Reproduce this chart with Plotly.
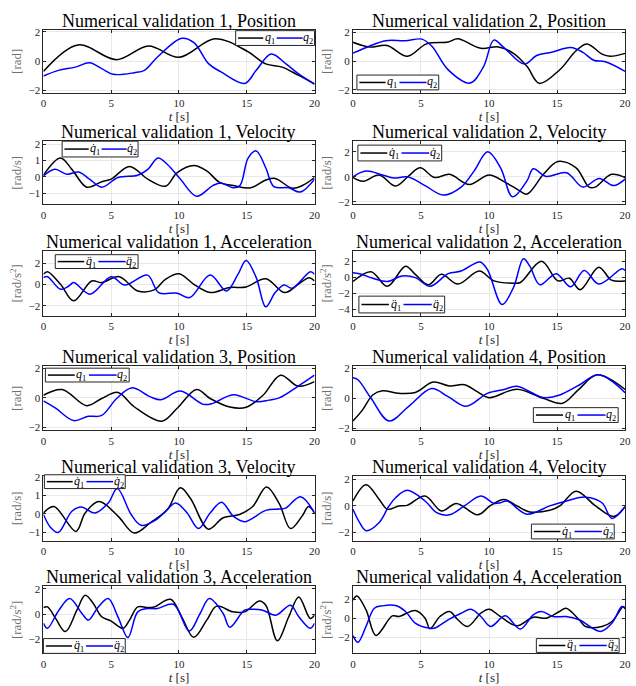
import plotly.graph_objects as go

# ---------------- data ----------------
# NV1 position
nv1_pos_t1 = [0, 2.55, 5.4, 7.75, 10.0, 12.65, 15.0, 16.4, 17.6, 18.8, 20]
nv1_pos_q1 = [-0.69, 1.11, 0.11, 1.04, 0.27, 1.53, 0.7, -0.18, -0.4, -0.95, -1.55]
nv1_pos_t2 = [0, 1.1, 2.35, 3.4, 4.3, 5.15, 6.7, 7.45, 8.4, 10.2, 11.1, 12.2, 13.1, 14.85, 15.7, 16.8, 17.9, 18.8, 20]
nv1_pos_q2 = [-1.0, -0.62, -0.4, -0.11, -0.5, -0.89, -0.78, -0.62, 0.27, 1.56, 1.27, -0.18, -0.73, -1.51, -0.62, 0.49, -0.18, -0.84, -1.55]

# NV2 position
nv2_pos_t1 = [0, 1.2, 2.5, 4.0, 5.4, 7.0, 7.7, 9.4, 10.7, 11.8, 12.8, 13.7, 15.2, 16.4, 17.2, 18.3, 18.9, 20]
nv2_pos_q1 = [1.32, 0.99, 1.1, 0.35, 1.21, 1.34, 1.56, 0.9, 1.0, 0.55, -0.37, -1.54, -0.59, 0.73, 1.21, 0.5, 0.35, 0.55]
nv2_pos_t2 = [0, 1.2, 2.4, 3.85, 5.06, 5.8, 7.0, 8.6, 9.6, 10.35, 11.1, 12.6, 13.5, 14.6, 16.0, 16.9, 17.7, 18.55, 20]
nv2_pos_q2 = [0.57, 1.05, 1.43, 1.43, 1.54, 1.05, -0.6, -1.52, -0.37, 1.47, 0.95, -0.2, 0.4, 0.62, 0.95, 0.62, 0.07, -0.04, -0.7]

# NV1 velocity
nv1_vel_t1 = [0, 1.26, 2.1, 3.2, 4.3, 5.0, 6.35, 7.7, 9.0, 9.87, 11.1, 12.05, 13.0, 14.0, 15.3, 16.4, 17.1, 18.35, 19.1, 20]
nv1_vel_q1 = [0.1, 1.16, 0.46, -0.64, -0.3, -0.14, 0.64, -0.14, -0.58, 0.26, 0.7, 0.36, -0.34, -0.54, -0.68, -0.2, -0.1, -0.7, -0.54, -0.04]
nv1_vel_t2 = [0, 0.85, 1.75, 2.6, 3.4, 4.3, 5.5, 6.95, 7.7, 8.45, 9.15, 10.1, 11.3, 12.5, 13.1, 14.0, 14.5, 15.1, 15.7, 16.4, 17.0, 18.1, 18.95, 20]
nv1_vel_q2 = [0.06, 0.46, 0.16, 0.3, -0.14, -0.64, -0.04, 0.1, 0.46, 1.16, 0.76, -0.14, -1.2, -0.54, -0.38, -0.68, -0.54, 1.16, 1.6, 0.56, -0.6, -0.68, -0.94, -0.14]

# NV2 velocity
nv2_vel_t1 = [0, 0.72, 1.93, 3.13, 4.1, 4.94, 6.0, 7.1, 8.55, 10.0, 11.2, 12.2, 12.8, 14.0, 15.06, 16.4, 17.35, 17.8, 19.0, 20]
nv2_vel_q1 = [-0.05, -0.36, 0.15, -0.74, 0.08, 0.72, -0.05, 0.2, -0.62, 0.15, -0.44, -1.08, -1.38, 0.2, 1.23, 0.72, -0.82, -0.82, 0.2, -0.05]
nv2_vel_t2 = [0, 0.96, 2.17, 3.0, 4.0, 5.3, 6.63, 7.95, 8.9, 9.9, 10.85, 11.73, 12.8, 13.25, 14.2, 15.7, 16.9, 18.1, 19.15, 20]
nv2_vel_q2 = [0, 0.46, 0.15, -0.1, 0, -0.7, -1.46, -0.82, 0.46, 2.0, 0.72, -1.6, -0.3, 0.64, 0.03, 0.33, -0.82, -0.13, -0.7, -0.18]

# NV1 acceleration
nv1_acc_t1 = [0, 0.3, 1.26, 2.23, 3.56, 4.3, 5.6, 6.96, 8.17, 9.0, 10.0, 11.1, 12.3, 13.75, 14.95, 16.4, 17.8, 18.8, 19.6, 20]
nv1_acc_q1 = [0.97, 1.22, 0.03, -1.53, 0.34, 0.19, 0.75, -0.6, -0.5, 0.5, 1.03, 0.03, -0.75, -0.28, -0.22, 0.56, -0.75, 0.03, 0.66, 0.34]
nv1_acc_t2 = [0, 0.3, 1.26, 1.87, 2.23, 3.44, 5.0, 6.0, 7.68, 8.5, 9.87, 10.8, 12.3, 13.5, 14.35, 14.95, 15.7, 16.4, 17.1, 17.75, 18.35, 19.7, 20]
nv1_acc_q2 = [0.66, 0.75, -0.44, -0.13, 0.19, -0.9, 0.75, -0.03, 0.9, -0.75, -0.81, -1.22, 0.9, -0.6, 0.97, 2.28, 0.66, -2.1, -0.75, -0.03, -0.34, 1.22, 0.97]

# NV2 acceleration
nv2_acc_t1 = [0, 1.33, 2.53, 3.86, 4.58, 5.54, 6.5, 7.71, 9.28, 10.36, 11.8, 12.3, 13.86, 15.06, 15.9, 16.7, 18.07, 19.0, 20]
nv2_acc_q1 = [-0.53, 0.69, -1.13, 1.38, 0.36, -0.93, 0.36, -0.85, 0.77, -0.45, -0.73, -0.65, 1.98, -0.45, -0.12, -1.54, 1.26, -0.36, -0.45]
nv2_acc_t2 = [0, 0.48, 1.45, 2.53, 3.6, 4.58, 5.66, 7.0, 7.95, 9.33, 9.88, 10.96, 11.8, 12.53, 13.0, 13.73, 14.94, 16.0, 17.0, 18.07, 19.76, 20]
nv2_acc_q2 = [0.57, 0.45, -0.12, -0.53, 0.16, -0.04, -1.13, 0.45, 0.77, 1.9, 0.97, -3.4, -1.25, 2.3, 1.38, -0.93, 0.45, -1.17, 0.85, -0.85, 1.05, 0.85]

# NV3 position
nv3_pos_t1 = [0, 1.38, 3.2, 4.3, 5.5, 6.7, 8.73, 9.87, 11.3, 12.3, 13.75, 14.95, 16.2, 17.5, 18.8, 20]
nv3_pos_q1 = [0.18, 0.57, -0.53, -0.04, 0.37, -0.6, -1.58, -0.7, 0.57, -0.04, -0.62, -0.64, 0.18, 1.54, 0.79, 1.1]
nv3_pos_t2 = [0, 0.9, 2.23, 3.3, 4.3, 5.4, 6.5, 7.9, 8.65, 10.1, 11.8, 12.5, 14.0, 15.7, 16.65, 17.4, 18.8, 20]
nv3_pos_q2 = [-0.2, -0.7, -1.54, -1.25, -1.19, -0.04, 0.68, 0.07, -0.13, 0.46, -0.44, -0.37, 0.22, -0.26, -0.15, 0.0, 0.8, 1.54]

# NV4 position
nv4_pos_t1 = [0, 0.72, 1.45, 2.17, 3.37, 4.58, 5.9, 7.1, 8.2, 9.16, 10.0, 12.05, 13.98, 15.4, 16.6, 17.95, 20]
nv4_pos_q1 = [-1.52, -0.76, 0.22, 0.5, 0.33, 0.39, 1.09, 0.83, 0.91, 0.43, 0.04, 0.61, 0.0, -0.33, 0.6, 1.57, 0.59]
nv4_pos_t2 = [0, 0.36, 1.33, 2.65, 4.1, 5.78, 6.99, 8.31, 9.88, 11.1, 12.05, 13.73, 14.2, 15.2, 16.6, 18.07, 20]
nv4_pos_q2 = [1.37, 1.24, 0.0, -1.52, -0.54, 0.65, 0.11, -0.54, 0.33, 0.59, 0.8, 0.11, 0.04, 0.22, 0.87, 1.57, 0.37]

# NV3 velocity
nv3_vel_t1 = [0, 0.78, 2.4, 3.08, 4.1, 5.5, 6.7, 7.9, 9.14, 10.1, 10.84, 12.17, 13.26, 14.47, 15.44, 16.46, 17.38, 18.23, 19.08, 19.56, 20]
nv3_vel_q1 = [0.05, 0.4, -0.94, 0.05, 0.66, -0.12, -1.03, -0.47, 0.23, 1.4, 0.84, -0.82, -0.21, -0.03, 0.4, 1.45, 0.58, -0.79, -0.12, 0.4, 0.05]
nv3_vel_t2 = [0, 0.53, 1.09, 2.1, 2.79, 3.8, 4.78, 5.45, 6.47, 7.2, 8.17, 8.9, 9.75, 10.6, 11.44, 12.3, 13.14, 14.0, 14.84, 16.4, 17.38, 17.87, 18.96, 20]
nv3_vel_q2 = [-0.03, -0.73, -1.0, 0.14, 0.37, 0.05, 0.58, 1.36, -0.03, -0.61, -0.38, 0.05, 0.58, 0.05, -0.79, 0.05, 0.63, -0.12, -0.42, 0.19, 0.26, 0.31, 0.92, 0.05]

# NV4 velocity
nv4_vel_t1 = [0, 0.96, 1.93, 2.53, 3.37, 3.98, 5.3, 6.5, 7.6, 9.16, 10.12, 11.1, 12.05, 13.0, 14.46, 15.2, 16.4, 17.83, 19.16, 20]
nv4_vel_q1 = [0.35, 1.58, 0.47, -0.27, -0.02, 0.02, 0.72, -0.4, 0.17, -0.69, 0.02, 0.47, -0.02, -0.47, -0.35, -0.02, 1.09, -0.02, -0.81, -0.07]
nv4_vel_t2 = [0, 0.48, 0.96, 1.93, 2.65, 3.13, 3.98, 5.3, 6.14, 7.1, 8.19, 9.4, 10.36, 10.84, 11.33, 12.77, 14.46, 15.42, 17.1, 18.3, 19.04, 20]
nv4_vel_q2 = [-0.27, -1.26, -1.88, -1.26, -0.02, 0.59, 1.16, 0.35, -0.52, -0.69, -0.02, 0.72, 0.17, 0.22, 0.35, -0.64, -0.02, 0.27, 0.64, 0.22, -0.96, -0.07]

# NV3 acceleration
nv3_acc_t1 = [0, 0.3, 0.9, 1.62, 2.47, 3.08, 3.68, 4.3, 5.0, 5.87, 6.35, 6.96, 7.68, 8.17, 9.38, 10.2, 11.08, 12.05, 12.78, 13.98, 14.84, 15.93, 16.41, 17.26, 18.1, 18.84, 19.68, 20]
nv3_acc_q1 = [0.52, 0.57, -0.34, -1.38, 0.31, 1.49, 0.84, -0.21, -0.55, -1.12, -0.47, 0.57, 0.52, 0.57, 1.17, -0.21, -1.83, -0.47, 0.63, 0.18, 0.18, 1.04, 0.7, -2.11, -0.21, 1.36, -0.34, -0.08]
nv3_acc_t2 = [0, 0.3, 1.14, 1.94, 2.84, 3.32, 4.05, 4.78, 5.5, 6.23, 6.96, 7.68, 8.4, 9.6, 10.76, 11.56, 12.24, 13.26, 13.75, 14.84, 15.44, 16.17, 17.14, 18.23, 18.84, 19.68, 20]
nv3_acc_q2 = [-0.73, -1.12, 0.31, 1.23, 0.05, -0.47, 0.57, 1.23, -0.21, -1.85, 0.18, 0.44, 0.44, 0.78, -1.33, 0.05, 1.23, 0.05, -1.04, 0.31, 0.39, 0.31, -0.08, 0.7, -0.21, -1.12, -0.73]

# NV4 acceleration
nv4_acc_t1 = [0, 0.29, 0.96, 1.69, 2.89, 3.37, 4.58, 5.3, 5.66, 6.39, 7.1, 7.71, 8.43, 9.4, 10.0, 10.84, 12.05, 13.25, 14.22, 15.18, 15.66, 16.63, 17.1, 18.3, 19.04, 19.88, 20]
nv4_acc_q1 = [1.9, 2.33, 0.87, -1.81, 0.24, 0.17, 0.8, 0.0, -1.11, 0.17, 0.7, -0.17, -0.87, 0.52, 0.94, 0.17, -0.8, 0.1, 0.0, 0.7, 1.04, -0.17, -0.87, -0.87, -0.35, 1.22, 0.97]
nv4_acc_t2 = [0, 0.36, 0.96, 1.57, 2.17, 3.13, 3.86, 4.58, 5.54, 6.02, 6.99, 7.95, 8.67, 9.4, 10.12, 11.2, 12.29, 13.25, 13.86, 14.7, 15.66, 16.63, 18.19, 19.04, 19.76, 20]
nv4_acc_q2 = [-1.84, -2.54, -0.87, 1.04, 1.29, 1.32, 0.7, -0.52, -1.04, -1.04, -0.17, 0.52, 0.94, 0.17, -0.87, 0.24, -1.15, 0.35, 0.7, 0.17, 0.17, -0.17, -1.39, -0.52, 1.22, 1.04]

x_ticks = [0, 5, 10, 15, 20]

# ---------------- layout helpers ----------------
W, H = 636, 686
col_px = [(41, 316), (355, 631)]
row_px = [(25, 89), (138, 202), (249, 315), (366, 431), (477, 543), (589, 657)]

pos_lbl = ["<i>q</i><sub>1</sub>", "<i>q</i><sub>2</sub>"]
vel_lbl = ["<i>q̇</i><sub>1</sub>", "<i>q̇</i><sub>2</sub>"]
acc_lbl = ["<i>q̈</i><sub>1</sub>", "<i>q̈</i><sub>2</sub>"]

# (row, col, title, ylabel, yrange, yticks, t1, q1, t2, q2, labels, legend box px (x0, y0, x1, y1))
panels = [
    (0, 0, "Numerical validation 1, Position", "[rad]", [-2.15, 2.15], [-2, 0, 2],
     nv1_pos_t1, nv1_pos_q1, nv1_pos_t2, nv1_pos_q2, pos_lbl, (236, 26, 316, 41)),
    (0, 1, "Numerical validation 2, Position", "[rad]", [-2.2, 2.2], [-2, 0, 2],
     nv2_pos_t1, nv2_pos_q1, nv2_pos_t2, nv2_pos_q2, pos_lbl, (359, 71, 442, 86)),
    (1, 0, "Numerical validation 1, Velocity", "[rad/s]", [-1.7, 2.2], [-1, 0, 1, 2],
     nv1_vel_t1, nv1_vel_q1, nv1_vel_t2, nv1_vel_q2, vel_lbl, (60, 138, 137, 154)),
    (1, 1, "Numerical validation 2, Velocity", "[rad/s]", [-2.2, 2.85], [-2, 0, 2],
     nv2_vel_t1, nv2_vel_q1, nv2_vel_t2, nv2_vel_q2, vel_lbl, (360, 142, 445, 158)),
    (2, 0, "Numerical validation 1, Acceleration", "[rad/s<sup>2</sup>]", [-2.95, 3.2], [-2, 0, 2],
     nv1_acc_t1, nv1_acc_q1, nv1_acc_t2, nv1_acc_q2, acc_lbl, (53, 253, 137, 267)),
    (2, 1, "Numerical validation 2, Acceleration", "[rad/s<sup>2</sup>]", [-4.8, 3.3], [-4, -2, 0, 2],
     nv2_acc_t1, nv2_acc_q1, nv2_acc_t2, nv2_acc_q2, acc_lbl, (361, 295, 448, 312)),
    (3, 0, "Numerical validation 3, Position", "[rad]", [-2.2, 2.15], [-2, 0, 2],
     nv3_pos_t1, nv3_pos_q1, nv3_pos_t2, nv3_pos_q2, pos_lbl, (43, 368, 128, 382)),
    (3, 1, "Numerical validation 4, Position", "[rad]", [-2.15, 2.15], [-2, 0, 2],
     nv4_pos_t1, nv4_pos_q1, nv4_pos_t2, nv4_pos_q2, pos_lbl, (538, 408, 624, 423)),
    (4, 0, "Numerical validation 3, Velocity", "[rad/s]", [-1.45, 2.05], [-1, 0, 1, 2],
     nv3_vel_t1, nv3_vel_q1, nv3_vel_t2, nv3_vel_q2, vel_lbl, (42, 476, 124, 490)),
    (4, 1, "Numerical validation 4, Velocity", "[rad/s]", [-2.65, 2.25], [-2, 0, 2],
     nv4_vel_t1, nv4_vel_q1, nv4_vel_t2, nv4_vel_q2, vel_lbl, (536, 526, 620, 541)),
    (5, 0, "Numerical validation 3, Acceleration", "[rad/s<sup>2</sup>]", [-3.1, 2.2], [-2, 0, 2],
     nv3_acc_t1, nv3_acc_q1, nv3_acc_t2, nv3_acc_q2, acc_lbl, (41, 642, 124, 657)),
    (5, 1, "Numerical validation 4, Acceleration", "[rad/s<sup>2</sup>]", [-3.7, 3.35], [-2, 0, 2],
     nv4_acc_t1, nv4_acc_q1, nv4_acc_t2, nv4_acc_q2, acc_lbl, (541, 642, 625, 656)),
]

FONT = "Liberation Serif"
AXC = "#262626"
COLORS = ["black", "#0000ff"]

def px(xp):
    return xp / W

def py(yp):
    return 1 - yp / H

fig = go.Figure()
layout = dict(
    width=W, height=H, margin=dict(l=0, r=0, t=0, b=0),
    paper_bgcolor="white", plot_bgcolor="white",
    font=dict(family=FONT, size=11, color=AXC),
    showlegend=False,
    annotations=[], shapes=[],
)

for i, (r, c, title, ylab, yr, yt, t1, q1, t2, q2, lbls, box) in enumerate(panels):
    n = i + 1
    xa = "x" if n == 1 else f"x{n}"
    ya = "y" if n == 1 else f"y{n}"
    x0, x1 = col_px[c]
    y0, y1 = row_px[r]
    xdom = [x0 / W, x1 / W]
    ydom = [1 - y1 / H, 1 - y0 / H]

    for (tt, qq, col, lab) in ((t1, q1, COLORS[0], lbls[0]), (t2, q2, COLORS[1], lbls[1])):
        fig.add_trace(go.Scatter(x=tt, y=qq, mode="lines",
                                 line=dict(color=col, width=1.5, shape="spline", smoothing=1.0),
                                 name=lab, xaxis=xa, yaxis=ya))

    common = dict(showline=True, linecolor=AXC, linewidth=1, mirror="allticks",
                  ticks="inside", ticklen=3, tickcolor=AXC,
                  showgrid=True, gridcolor="#e8e8e8", gridwidth=1, zeroline=False,
                  tickfont=dict(family=FONT, size=11, color=AXC))
    layout["xaxis" if n == 1 else f"xaxis{n}"] = dict(
        domain=xdom, anchor=ya, range=[0, 20], tickvals=x_ticks,
        title=dict(text="<i>t</i> [s]", font=dict(family=FONT, size=13, color=AXC), standoff=0),
        **common)
    layout["yaxis" if n == 1 else f"yaxis{n}"] = dict(
        domain=ydom, anchor=xa, range=yr, tickvals=yt,
        title=dict(text=ylab, font=dict(family=FONT, size=13, color="#707070"), standoff=3),
        **common)

    # legend box (drawn as a MATLAB-style boxed legend)
    bx0, by0, bx1, by1 = box
    bw = bx1 - bx0
    ymid = py((by0 + by1) / 2)
    layout["shapes"].append(dict(type="rect", xref="paper", yref="paper",
                                 x0=px(bx0), x1=px(bx1), y0=py(by1), y1=py(by0),
                                 line=dict(color=AXC, width=1), fillcolor="white", layer="above"))
    for k, (l0, l1, tc) in enumerate(((0.03, 0.35, 0.43), (0.52, 0.85, 0.92))):
        layout["shapes"].append(dict(type="line", xref="paper", yref="paper",
                                     x0=px(bx0 + l0 * bw), x1=px(bx0 + l1 * bw), y0=ymid, y1=ymid,
                                     line=dict(color=COLORS[k], width=1.5), layer="above"))
        layout["annotations"].append(dict(text=lbls[k], x=px(bx0 + tc * bw), y=ymid,
                                          xref="paper", yref="paper", xanchor="center", yanchor="middle",
                                          showarrow=False, font=dict(family=FONT, size=12, color="black")))

    layout["annotations"].append(dict(
        text=title, x=(xdom[0] + xdom[1]) / 2, y=ydom[1], xref="paper", yref="paper",
        xanchor="center", yanchor="bottom", showarrow=False, yshift=-3,
        font=dict(family=FONT, size=18, color="black")))

fig.update_layout(**layout)
fig.write_html("out.html")
